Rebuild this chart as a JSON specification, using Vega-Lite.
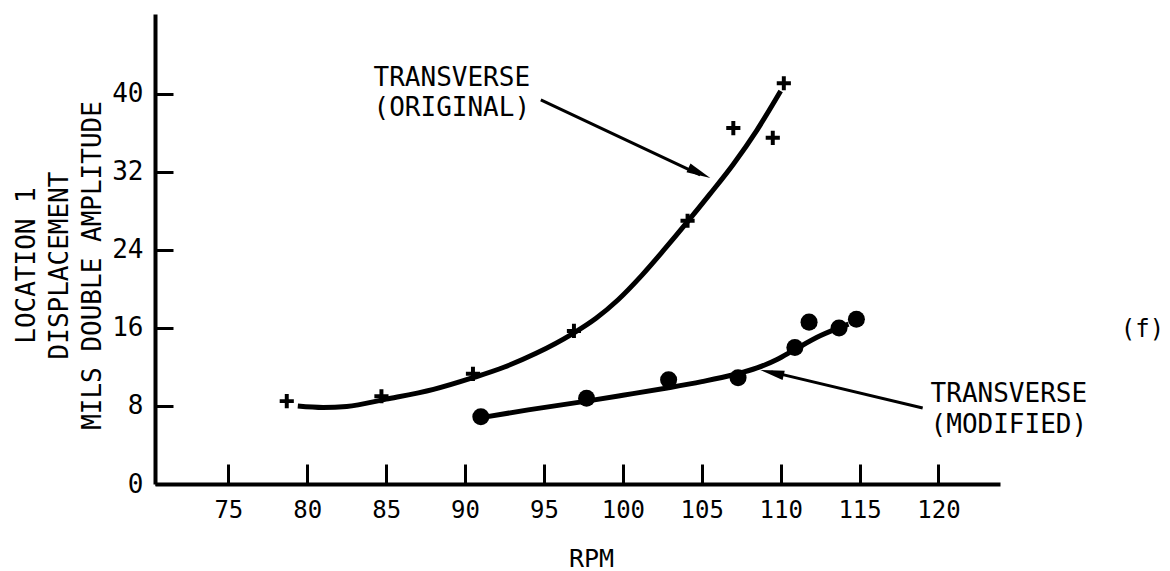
{
  "$schema": "https://vega.github.io/schema/vega-lite/v6.json",
  "width": 845,
  "height": 470,
  "autosize": {"type": "none"},
  "padding": {"left": 155, "top": 14, "right": 170, "bottom": 87},
  "background": "white",
  "config": {
    "view": {"stroke": null},
    "font": "DejaVu Sans Mono",
    "axis": {"grid": false}
  },
  "datasets": {
    "orig_fit": [
      {"rpm": 79.4, "amp": 8.0},
      {"rpm": 81.0, "amp": 7.85},
      {"rpm": 82.5, "amp": 7.95},
      {"rpm": 85.0, "amp": 8.7},
      {"rpm": 88.0, "amp": 9.7},
      {"rpm": 90.5, "amp": 10.9},
      {"rpm": 92.5, "amp": 12.0},
      {"rpm": 94.5, "amp": 13.4},
      {"rpm": 96.8, "amp": 15.4},
      {"rpm": 98.3, "amp": 17.0},
      {"rpm": 99.7, "amp": 18.9},
      {"rpm": 101.2, "amp": 21.4},
      {"rpm": 102.6, "amp": 24.0},
      {"rpm": 104.1, "amp": 26.9},
      {"rpm": 105.5, "amp": 29.7},
      {"rpm": 107.0, "amp": 32.8},
      {"rpm": 108.5, "amp": 36.3},
      {"rpm": 110.0, "amp": 40.3}
    ],
    "mod_fit": [
      {"rpm": 91.0, "amp": 6.8},
      {"rpm": 94.0, "amp": 7.6},
      {"rpm": 97.7, "amp": 8.5},
      {"rpm": 100.0, "amp": 9.1},
      {"rpm": 102.8, "amp": 9.85},
      {"rpm": 105.0, "amp": 10.5},
      {"rpm": 107.0, "amp": 11.2},
      {"rpm": 108.5, "amp": 11.9},
      {"rpm": 109.8, "amp": 12.8},
      {"rpm": 110.8, "amp": 13.7},
      {"rpm": 112.5, "amp": 15.2},
      {"rpm": 114.3, "amp": 16.4}
    ],
    "orig_pts": [
      {"rpm": 78.7, "amp": 8.5},
      {"rpm": 84.7, "amp": 9.0},
      {"rpm": 90.5, "amp": 11.3},
      {"rpm": 96.9, "amp": 15.7},
      {"rpm": 104.1, "amp": 27.0},
      {"rpm": 107.0, "amp": 36.5},
      {"rpm": 109.5, "amp": 35.5},
      {"rpm": 110.2, "amp": 41.1}
    ],
    "mod_pts": [
      {"rpm": 91.0, "amp": 6.9},
      {"rpm": 97.7, "amp": 8.8},
      {"rpm": 102.9, "amp": 10.7},
      {"rpm": 107.3, "amp": 10.9},
      {"rpm": 110.9, "amp": 14.0},
      {"rpm": 111.8, "amp": 16.6},
      {"rpm": 113.7, "amp": 16.0},
      {"rpm": 114.8, "amp": 16.9}
    ],
    "labels": [
      {"rpm": 84.2, "amp": 41.67, "text": "TRANSVERSE"},
      {"rpm": 84.2, "amp": 38.6, "text": "(ORIGINAL)"},
      {"rpm": 119.5, "amp": 9.2, "text": "TRANSVERSE"},
      {"rpm": 119.5, "amp": 6.0, "text": "(MODIFIED)"}
    ],
    "side": [
      {"rpm": 134.3, "amp": 15.8, "text": "(f)"}
    ],
    "arrows": [
      {"name": "orig", "rpm": 94.8, "amp": 39.4, "rpm2": 104.9, "amp2": 31.7},
      {"name": "mod", "rpm": 119.0, "amp": 7.8, "rpm2": 109.4, "amp2": 11.5}
    ],
    "heads": [
      {"name": "orig", "rpm": 104.85, "amp": 31.9},
      {"name": "mod", "rpm": 109.45, "amp": 11.42}
    ]
  },
  "layer": [
    {
      "data": {"name": "orig_fit"},
      "mark": {"type": "line", "color": "black", "strokeWidth": 5, "interpolate": "monotone"},
      "encoding": {
        "x": {
          "field": "rpm", "type": "quantitative",
          "scale": {"domain": [70.35, 123.9], "nice": false, "zero": false},
          "axis": {
            "values": [75, 80, 85, 90, 95, 100, 105, 110, 115, 120],
            "domainColor": "black", "domainWidth": 4,
            "tickColor": "black", "tickWidth": 3, "tickSize": -20,
            "labelFont": "DejaVu Sans Mono", "labelFontSize": 24, "labelColor": "black",
            "labelPadding": 34,
            "title": "RPM", "titleFont": "DejaVu Sans Mono", "titleFontSize": 25,
            "titleFontWeight": "normal", "titleColor": "black",
            "titleX": 436, "titleY": 62, "titleBaseline": "top", "titleAlign": "center"
          }
        },
        "y": {
          "field": "amp", "type": "quantitative",
          "scale": {"domain": [0, 48.2], "nice": false, "zero": false},
          "axis": {
            "values": [0, 8, 16, 24, 32, 40],
            "domainColor": "black", "domainWidth": 4,
            "tickColor": "black", "tickWidth": 3, "tickSize": -18,
            "labelFont": "DejaVu Sans Mono", "labelFontSize": 26, "labelColor": "black",
            "labelPadding": 30,
            "title": ["LOCATION 1", "DISPLACEMENT", "MILS DOUBLE AMPLITUDE"],
            "titleFont": "DejaVu Sans Mono", "titleFontSize": 26,
            "titleFontWeight": "normal", "titleColor": "black",
            "titleAngle": -90, "titleLineHeight": 33,
            "titleX": -142, "titleY": 251, "titleBaseline": "top", "titleAlign": "center"
          }
        }
      }
    },
    {
      "data": {"name": "mod_fit"},
      "mark": {"type": "line", "color": "black", "strokeWidth": 5, "interpolate": "monotone"},
      "encoding": {
        "x": {"field": "rpm", "type": "quantitative"},
        "y": {"field": "amp", "type": "quantitative"}
      }
    },
    {
      "data": {"name": "orig_pts"},
      "mark": {"type": "point", "filled": true, "color": "black", "opacity": 1, "size": 200,
        "shape": "M-1,-0.28H1V0.28H-1Z M-0.28,-1H0.28V1H-0.28Z"},
      "encoding": {
        "x": {"field": "rpm", "type": "quantitative"},
        "y": {"field": "amp", "type": "quantitative"}
      }
    },
    {
      "data": {"name": "mod_pts"},
      "mark": {"type": "circle", "color": "black", "opacity": 1, "size": 290},
      "encoding": {
        "x": {"field": "rpm", "type": "quantitative"},
        "y": {"field": "amp", "type": "quantitative"}
      }
    },
    {
      "data": {"name": "arrows"},
      "mark": {"type": "rule", "color": "black", "strokeWidth": 3},
      "encoding": {
        "x": {"field": "rpm", "type": "quantitative"},
        "y": {"field": "amp", "type": "quantitative"},
        "x2": {"field": "rpm2"},
        "y2": {"field": "amp2"}
      }
    },
    {
      "data": {"name": "heads"},
      "transform": [{"filter": "datum.name == 'orig'"}],
      "mark": {"type": "point", "filled": true, "color": "black", "opacity": 1, "size": 576,
        "shape": "M1,0L-1,-0.4L-1,0.4Z", "angle": 24.6},
      "encoding": {
        "x": {"field": "rpm", "type": "quantitative"},
        "y": {"field": "amp", "type": "quantitative"}
      }
    },
    {
      "data": {"name": "heads"},
      "transform": [{"filter": "datum.name == 'mod'"}],
      "mark": {"type": "point", "filled": true, "color": "black", "opacity": 1, "size": 576,
        "shape": "M1,0L-1,-0.4L-1,0.4Z", "angle": 193.2},
      "encoding": {
        "x": {"field": "rpm", "type": "quantitative"},
        "y": {"field": "amp", "type": "quantitative"}
      }
    },
    {
      "data": {"name": "labels"},
      "mark": {"type": "text", "align": "left", "baseline": "middle", "font": "DejaVu Sans Mono",
        "fontSize": 26, "color": "black"},
      "encoding": {
        "x": {"field": "rpm", "type": "quantitative"},
        "y": {"field": "amp", "type": "quantitative"},
        "text": {"field": "text"}
      }
    },
    {
      "data": {"name": "side"},
      "mark": {"type": "text", "align": "right", "baseline": "middle", "font": "DejaVu Sans Mono",
        "fontSize": 24, "color": "black"},
      "encoding": {
        "x": {"field": "rpm", "type": "quantitative"},
        "y": {"field": "amp", "type": "quantitative"},
        "text": {"field": "text"}
      }
    }
  ]
}
